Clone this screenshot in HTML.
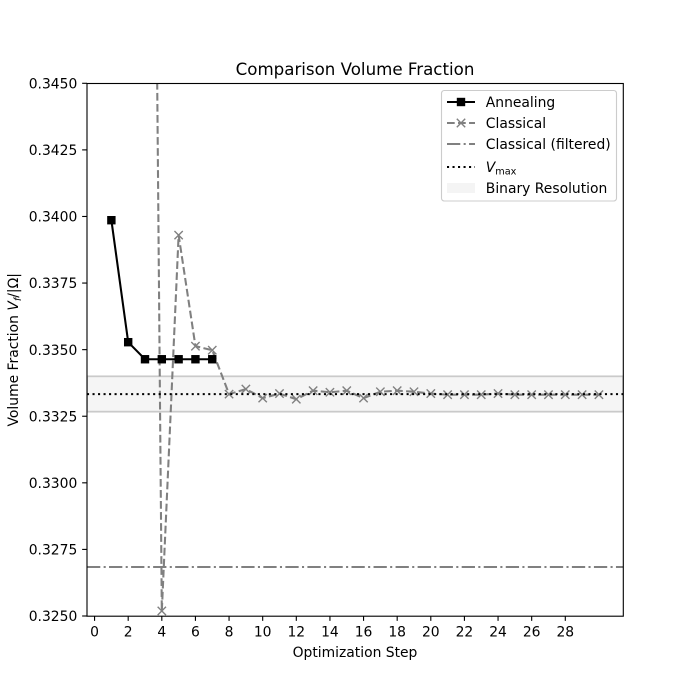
<!DOCTYPE html>
<html>
<head>
<meta charset="utf-8">
<title>Comparison Volume Fraction</title>
<style>
html,body{margin:0;padding:0;background:#fff;}
svg{display:block;}
text{font-family:"DejaVu Sans",sans-serif;fill:#000;}
</style>
</head>
<body>
<svg id="chart" xmlns="http://www.w3.org/2000/svg" width="692" height="692" viewBox="0 0 692 692">
  <defs>
    <clipPath id="plot-clip"><rect x="87" y="83" width="536.3" height="533"/></clipPath>
  </defs>
  <rect x="0" y="0" width="692" height="692" fill="#fff"/>
  <g id="plot-layer" clip-path="url(#plot-clip)"></g>
  <g id="tick-layer"></g>
  <rect x="87" y="83.5" width="536.3" height="532.7" fill="none" stroke="#000" stroke-width="1.11"/>
  <text x="355" y="75" font-size="16.67" text-anchor="middle">Comparison Volume Fraction</text>
  <text x="355" y="657" font-size="13.89" text-anchor="middle">Optimization Step</text>
  <text transform="translate(18,349.8) rotate(-90)" font-size="13.89" text-anchor="middle">Volume Fraction <tspan font-style="italic">V</tspan><tspan font-style="italic" font-size="9.7" dy="3">f</tspan><tspan dy="-3">/|Ω|</tspan></text>

  <g>
    <rect x="441.5" y="90.5" width="175" height="110.5" rx="2.8" fill="#fff" fill-opacity="0.8" stroke="#ccc" stroke-width="1.11"/>
    <g>
      <line x1="447" x2="475" y1="102" y2="102" stroke="#000" stroke-width="2.08"/>
      <rect x="456.8" y="97.8" width="8.4" height="8.4" fill="#000"/>
      <text x="485.8" y="107" font-size="13.89">Annealing</text>
    </g>
    <g>
      <line x1="447" x2="475" y1="123" y2="123" stroke="#808080" stroke-width="2.08" stroke-dasharray="7.7 3.33"/>
      <path d="M456.8 118.8L465.2 127.2M456.8 127.2L465.2 118.8" stroke="#808080" stroke-width="1.39" fill="none"/>
      <text x="485.8" y="128" font-size="13.89">Classical</text>
    </g>
    <g>
      <line x1="447" x2="475" y1="144" y2="144" stroke="#808080" stroke-width="2.08" stroke-dasharray="13.3 3.33 2.08 3.33"/>
      <text x="485.8" y="149" font-size="13.89">Classical (filtered)</text>
    </g>
    <g>
      <line x1="447" x2="475" y1="167" y2="167" stroke="#000" stroke-width="2.08" stroke-dasharray="2.08 3.43"/>
      <text x="485.8" y="172" font-size="13.89"><tspan font-style="italic">V</tspan><tspan font-size="9.7" dy="2.5">max</tspan></text>
    </g>
    <g>
      <rect x="447" y="183" width="28" height="10" fill="#808080" fill-opacity="0.09"/>
      <text x="485.8" y="193" font-size="13.89">Binary Resolution</text>
    </g>
  </g>
</svg>
<script>
var annealingSteps = [1, 2, 3, 4, 5, 6, 7];
var annealingValues = [0.33986, 0.33528, 0.33464, 0.33464, 0.33464, 0.33464, 0.33464];
var classicalSteps = [1, 2, 3, 4, 5, 6, 7, 8, 9, 10, 11, 12, 13, 14, 15, 16, 17, 18, 19, 20, 21, 22, 23, 24, 25, 26, 27, 28, 29, 30];
var classicalValues = [0.4100, 0.4050, 0.3975, 0.32519, 0.33930, 0.33513, 0.33498, 0.33333, 0.33352, 0.33318, 0.33335, 0.33314, 0.33346, 0.33340, 0.33346, 0.33318, 0.33342, 0.33346, 0.33342, 0.33335, 0.33331, 0.33331, 0.33331, 0.33335, 0.33331, 0.33331, 0.33331, 0.33331, 0.33331, 0.33331];
var filteredValue = 0.32684;
var vmaxValue = 0.33333;
var bandLow = 0.33267;
var bandHigh = 0.33400;
var xTicks = [0, 2, 4, 6, 8, 10, 12, 14, 16, 18, 20, 22, 24, 26, 28];
var yTicks = [0.3250, 0.3275, 0.3300, 0.3325, 0.3350, 0.3375, 0.3400, 0.3425, 0.3450];
var yTickLabels = ["0.3250", "0.3275", "0.3300", "0.3325", "0.3350", "0.3375", "0.3400", "0.3425", "0.3450"];

var NS = "http://www.w3.org/2000/svg";
var axL = 87, axR = 623.3, axT = 83.3, axB = 616;
var xMin = -0.45, xMax = 31.45, yMin = 0.325, yMax = 0.345;
function sx(v) { return axL + (v - xMin) / (xMax - xMin) * (axR - axL); }
function sy(v) { return axB - (v - yMin) / (yMax - yMin) * (axB - axT); }
function make(tag, props, parent) {
  var el = document.createElementNS(NS, tag);
  for (var k in props) { el.setAttribute(k, props[k]); }
  parent.appendChild(el);
  return el;
}
function pointsOf(xs, ys) {
  return xs.map(function (x, i) { return sx(x).toFixed(2) + "," + sy(ys[i]).toFixed(2); }).join(" ");
}
var plot = document.getElementById("plot-layer");
var ticks = document.getElementById("tick-layer");

var band = make("rect", { x: axL, y: sy(bandHigh), width: axR - axL, height: sy(bandLow) - sy(bandHigh), fill: "#808080", "fill-opacity": 0.08, stroke: "#808080", "stroke-opacity": 0.38, "stroke-width": 1.8 }, plot);



var classicalLine = make("polyline", { points: pointsOf(classicalSteps, classicalValues), fill: "none", stroke: "#808080", "stroke-width": 2.08, "stroke-dasharray": "7.7 3.33" }, plot);



classicalSteps.forEach(function (s, i) {
  var cx = sx(s), cy = sy(classicalValues[i]), r = 4.17;
  var m = make("path", { d: "M" + (cx - r) + " " + (cy - r) + "L" + (cx + r) + " " + (cy + r) + "M" + (cx - r) + " " + (cy + r) + "L" + (cx + r) + " " + (cy - r), stroke: "#808080", "stroke-width": 1.39, fill: "none" }, plot);
  
  
});

var filteredLine = make("line", { x1: axL, x2: axR, y1: sy(filteredValue), y2: sy(filteredValue), stroke: "#808080", "stroke-width": 2.08, "stroke-dasharray": "13.3 3.33 2.08 3.33" }, plot);



var vmaxLine = make("line", { x1: axL, x2: axR, y1: sy(vmaxValue), y2: sy(vmaxValue), stroke: "#000", "stroke-width": 2.08, "stroke-dasharray": "2.08 3.43" }, plot);



var annealingLine = make("polyline", { points: pointsOf(annealingSteps, annealingValues), fill: "none", stroke: "#000", "stroke-width": 2.08 }, plot);



annealingSteps.forEach(function (s, i) {
  var m = make("rect", { x: sx(s) - 4.2, y: sy(annealingValues[i]) - 4.2, width: 8.4, height: 8.4, fill: "#000" }, plot);
  
  
});

xTicks.forEach(function (t) {
  var x = sx(t);
  var mark = make("line", { x1: x, x2: x, y1: axB, y2: axB + 4.86, stroke: "#000", "stroke-width": 1.11 }, ticks);
  
  
  var label = make("text", { x: x, y: axB + 20.5, "font-size": 13.89, "text-anchor": "middle" }, ticks);
  label.textContent = String(t);
  
  
});

yTicks.forEach(function (t, i) {
  var y = sy(t);
  var mark = make("line", { x1: axL - 4.86, x2: axL, y1: y, y2: y, stroke: "#000", "stroke-width": 1.11 }, ticks);
  
  
  var label = make("text", { x: axL - 9.7, y: y + 5.1, "font-size": 13.89, "text-anchor": "end" }, ticks);
  label.textContent = yTickLabels[i];
  
  
});
</script>
</body>
</html>
